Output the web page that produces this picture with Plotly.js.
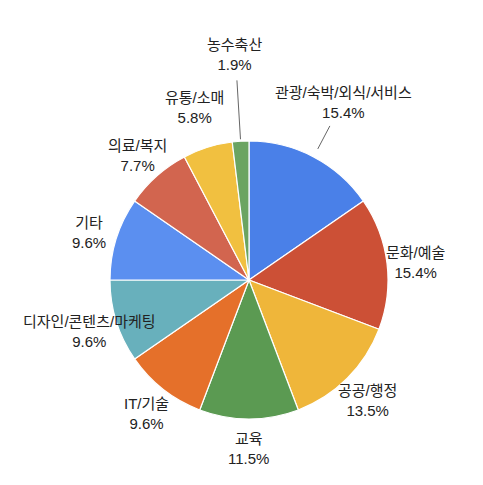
<!DOCTYPE html>
<html><head><meta charset="utf-8">
<script src="https://cdn.plot.ly/plotly-3.0.1.min.js"></script>
<style>html,body{margin:0;padding:0;background:#fff}</style>
</head><body><div id="chart" style="width:483px;height:485px"></div>
<script>
const categories = ['관광/숙박/외식/서비스','문화/예술','공공/행정','교육','IT/기술','디자인/콘텐츠/마케팅','기타','의료/복지','유통/소매','농수축산'];
const counts = [8,8,7,6,5,5,5,4,3,1];
const percentLabels = ['15.4%','15.4%','13.5%','11.5%','9.6%','9.6%','9.6%','7.7%','5.8%','1.9%'];
const colors = ['#4a80e8','#cc5036','#efb63a','#5b9a52','#e5702a','#68b0bc','#5b8ff0','#d2654f','#f1c040','#6ba462'];

// layout: label centres (px) and leader lines (radius in px)
const W = 483, H = 485, M = {l:110, r:95, t:141, b:66};
const PW = W - M.l - M.r, PH = H - M.t - M.b;
const labelPos = [[343,102],[415,262],[367,400],[248,448],[146,413],[89,331],[89,232],[137,155],[194,107],[234,55]];
const leaders = {0:[148,174], 9:[141,200]};
const R = 139;

const total = counts.reduce((a,b)=>a+b,0);
let cum = 0;
const midAngles = counts.map(v => { const a = (cum + v/2)/total*2*Math.PI; cum += v; return a; });
const toPaperX = px => (px - M.l)/PW;
const toPaperY = py => (H - M.b - py)/PH;
const cx = M.l + PW/2, cy = M.t + PH/2;

const font = {family:'"Liberation Sans", Arial, "Noto Sans CJK KR", sans-serif', size:15, color:'#222222'};
const annotations = categories.map((c,i)=>({
  xref:'paper', yref:'paper', x:toPaperX(labelPos[i][0]), y:toPaperY(labelPos[i][1]),
  xanchor:'center', yanchor:'middle', align:'center', showarrow:false,
  text: c + '<br>' + percentLabels[i], font: font
}));
const shapes = Object.keys(leaders).map(k=>{
  const a = midAngles[k], [r0,r1] = leaders[k];
  return {type:'line', xref:'paper', yref:'paper',
    x0:toPaperX(cx + r0*Math.sin(a)), y0:toPaperY(cy - r0*Math.cos(a)),
    x1:toPaperX(cx + r1*Math.sin(a)), y1:toPaperY(cy - r1*Math.cos(a)),
    line:{color:'#666666', width:1}};
});

const trace = {
  type:'pie', labels:categories, values:counts, sort:false, direction:'clockwise', rotation:0,
  marker:{colors:colors, line:{color:'#ffffff', width:1.2}},
  textinfo:'none', textposition:'none', hoverinfo:'none',
  showlegend:false, automargin:false
};
const layout = {
  width:W, height:H, margin:M, annotations:annotations, shapes:shapes,
  paper_bgcolor:'#ffffff', plot_bgcolor:'#ffffff', showlegend:false
};
Plotly.newPlot('chart',[trace],layout,{displayModeBar:false,staticPlot:true});
</script></body></html>
